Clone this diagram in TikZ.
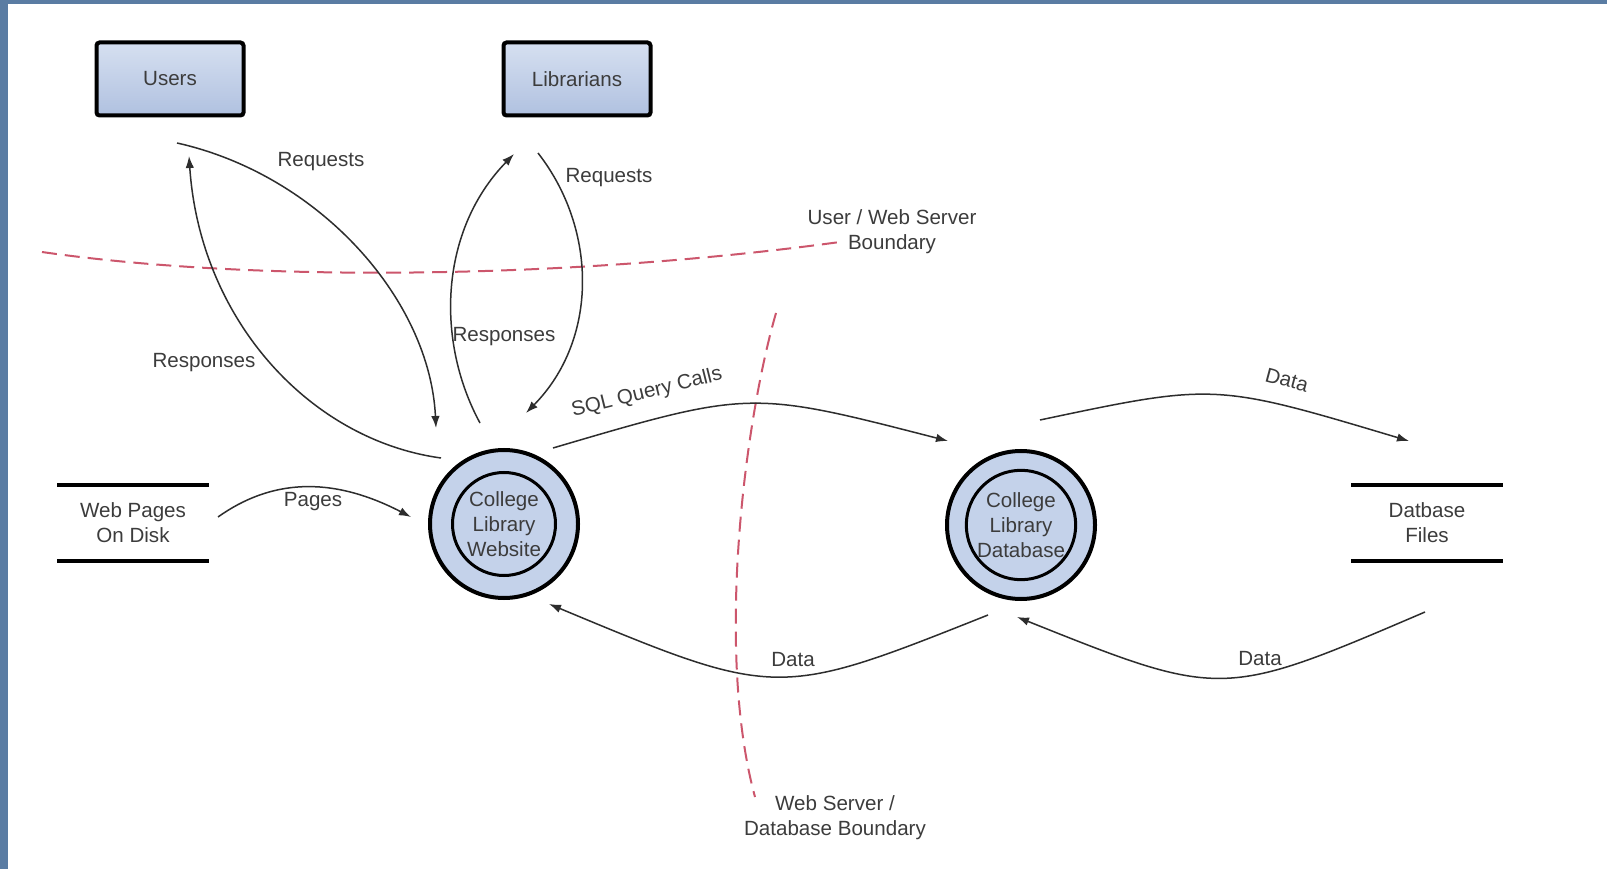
\documentclass[tikz,border=0pt]{standalone}
\usepackage{fontspec}
\setmainfont{Liberation Sans}
\usetikzlibrary{arrows.meta}

\definecolor{frameblue}{RGB}{90,124,163}
\definecolor{boxblue}{RGB}{196,210,234}
\definecolor{boxblueDark}{RGB}{176,193,224}
\definecolor{linegray}{RGB}{45,45,45}
\definecolor{textgray}{RGB}{60,60,60}
\definecolor{limitred}{RGB}{204,86,108}

\begin{document}
\begin{tikzpicture}[x=0.2mm, y=-0.2mm, -{Latex[length=2.4mm,width=1.7mm]},
      every node/.append style={font=\fontsize{11.7}{14.3}\selectfont,text=textgray,align=center}]
    \tikzstyle{entity} = [rectangle,draw=black,line width=0.8mm,rounded corners=0.6mm,
                          top color=boxblue!70,bottom color=boxblueDark,
                          minimum width=29.4mm,minimum height=14.6mm]
    \tikzstyle{proc} = [circle,draw=black,line width=0.8mm,fill=boxblue,minimum size=29.6mm]
    \tikzstyle{procin} = [circle,draw=black,line width=0.6mm,fill=boxblue,minimum size=20.6mm,inner sep=0pt]
    \tikzstyle{store} = [rectangle,minimum width=30.2mm,minimum height=15mm,inner sep=0pt]
    \tikzstyle{storeline} = [-,line width=0.8mm,draw=black]
    \tikzstyle{flow} = [line width=0.3mm,draw=linegray]
    \tikzstyle{limit} = [-,line width=0.4mm,draw=limitred,dash pattern=on 3mm off 1.6mm]
    \tikzstyle{label} = [inner sep=1pt]

    \useasboundingbox (0,0) rectangle (1607,869);
    \fill[-,white] (0,0) rectangle (1607,869);
    \fill[-,frameblue] (0,0) rectangle (8,869);
    \fill[-,frameblue] (0,0) rectangle (1607,4);

    % external entities
    \node[entity] (users) at (170,79) {Users};
    \node[entity] (librarians) at (577,79) {Librarians};

    % processes
    \node[proc] (website) at (504,524) {};
    \node[procin] (websiteIn) at (website) {College\\Library\\Website};
    \node[proc] (database) at (1021,525) {};
    \node[procin] (databaseIn) at (database) {College\\Library\\Database};

    % data stores
    \node[store] (pages) at (133,523) {Web Pages\\On Disk};
    \draw[storeline] (pages.north west) -- (pages.north east);
    \draw[storeline] (pages.south west) -- (pages.south east);
    \node[store] (files) at (1427,523) {Datbase\\Files};
    \draw[storeline] (files.north west) -- (files.north east);
    \draw[storeline] (files.south west) -- (files.south east);

    % boundaries
    \coordinate (userLimitA) at (42,252);
    \coordinate (userLimitB) at (840,242);
    \draw[limit] (userLimitA) .. controls (250,282) and (560,280) .. (userLimitB);
    \node[label] (userLimit) at (892,232) {User / Web Server\\Boundary};
    \coordinate (dbLimitA) at (776,313);
    \coordinate (dbLimitB) at (755,797);
    \draw[limit] (dbLimitA) .. controls (745,420) and (715,650) .. (dbLimitB);
    \node[label] (dbLimit) at (835,818) {Web Server /\\Database Boundary};

    % flow end points
    \coordinate (usrReqA) at (177,143);
    \coordinate (usrReqB) at (436,428);
    \coordinate (usrRespA) at (441,458);
    \coordinate (usrRespB) at (189,156);
    \coordinate (libRespA) at (480,423);
    \coordinate (libRespB) at (514,154);
    \coordinate (libReqA) at (538,153);
    \coordinate (libReqB) at (526,413);
    \coordinate (pagesA) at (218,517);
    \coordinate (pagesB) at (411,517);
    \coordinate (sqlA) at (553,448);
    \coordinate (sqlB) at (948,441);
    \coordinate (dataOutA) at (1040,420);
    \coordinate (dataOutB) at (1409,441);
    \coordinate (dataInA) at (1425,612);
    \coordinate (dataInB) at (1017,617);
    \coordinate (dataBackA) at (988,615);
    \coordinate (dataBackB) at (549,604);

    % flows
    \draw[flow] (usrReqA) .. controls (320,175) and (430,300) .. (usrReqB);
    \node[label] (usrReq) at (321,162) {Requests};
    \draw[flow] (usrRespA) .. controls (310,440) and (200,320) .. (usrRespB);
    \node[label] (usrResp) at (204,363) {Responses};
    \draw[flow] (libRespA) .. controls (435,340) and (440,230) .. (libRespB);
    \node[label] (libResp) at (504,337) {Responses};
    \draw[flow] (libReqA) .. controls (598,230) and (598,340) .. (libReqB);
    \node[label] (libReq) at (609,178) {Requests};
    \draw[flow] (pagesA) .. controls (270,480) and (330,475) .. (pagesB);
    \node[label] (pagesLbl) at (313,502) {Pages};
    \draw[flow] (sqlA) .. controls (750,390) .. (sqlB);
    \node[label,rotate=14] (sqlLbl) at (647,393) {SQL Query Calls};
    \draw[flow] (dataOutA) .. controls (1215,383) .. (dataOutB);
    \node[label,rotate=-15] (dataOut) at (1287,380) {Data};
    \draw[flow] (dataInA) .. controls (1222,699) .. (dataInB);
    \node[label] (dataIn) at (1260,659) {Data};
    \draw[flow] (dataBackA) .. controls (777,699) .. (dataBackB);
    \node[label] (dataBack) at (793,660) {Data};
\end{tikzpicture}
\end{document}
